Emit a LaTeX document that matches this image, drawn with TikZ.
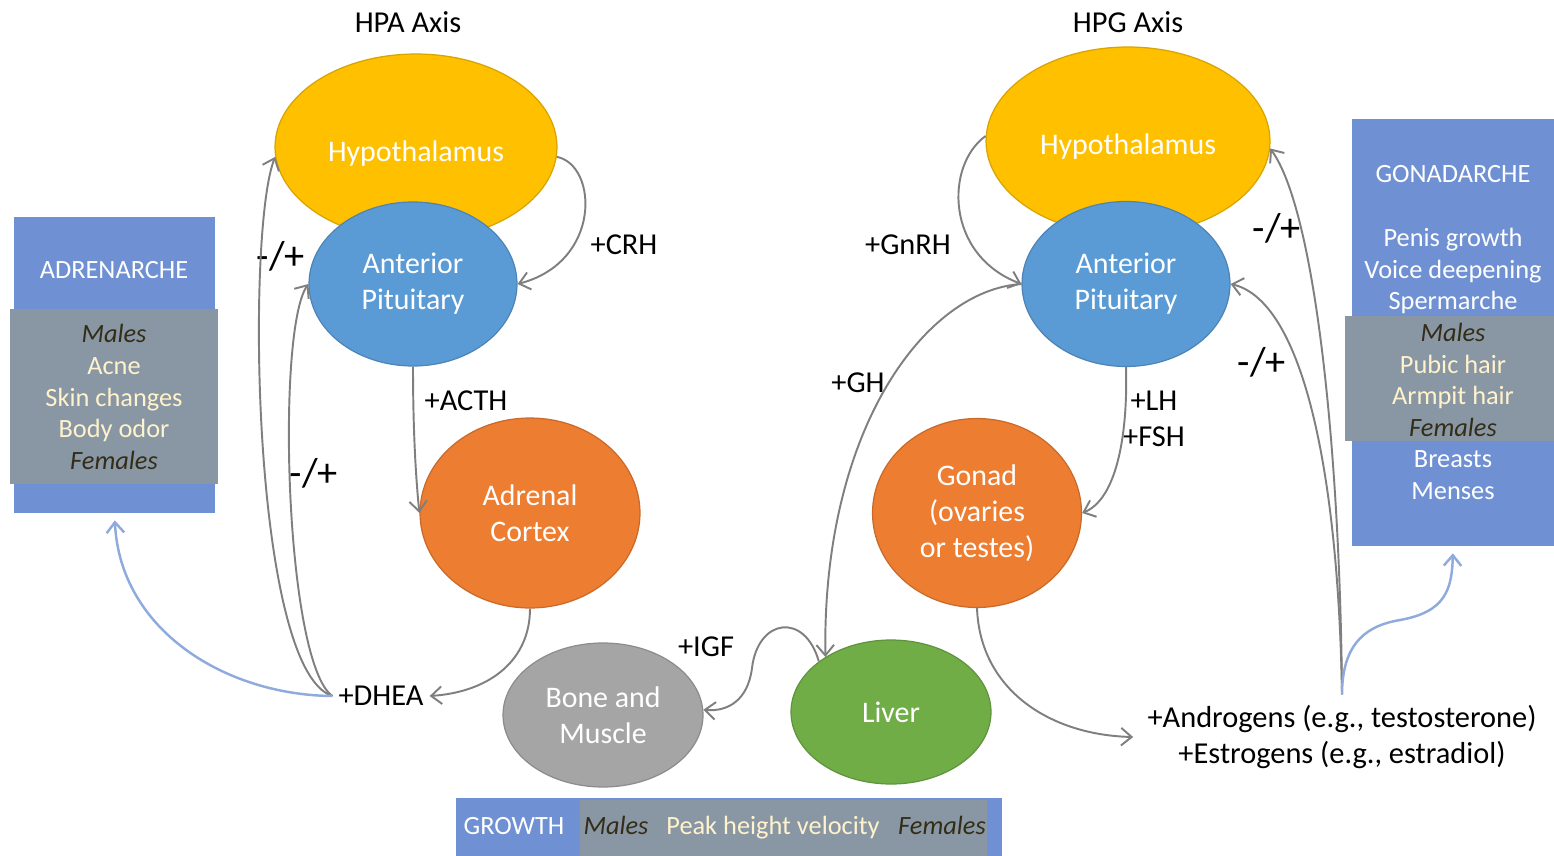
\documentclass[tikz,border=0pt]{standalone}
\usepackage{fontspec}
\setmainfont{Carlito}
\usetikzlibrary{shapes.geometric,arrows.meta}

\definecolor{hypyellow}{HTML}{FFC000}
\definecolor{pitblue}{HTML}{5B9BD5}
\definecolor{glandorange}{HTML}{ED7D31}
\definecolor{tissuegray}{HTML}{A5A5A5}
\definecolor{livergreen}{HTML}{70AD47}
\definecolor{panelblue}{HTML}{6F91D3}
\definecolor{overgray}{HTML}{8897A3}
\definecolor{creamtext}{HTML}{FFF2CC}
\definecolor{darkital}{HTML}{332D18}
\definecolor{linkgray}{HTML}{7F7F7F}
\definecolor{lightlink}{HTML}{8FAADC}

\newcommand{\sexlabel}[1]{\textcolor{darkital}{\itshape #1}}

\begin{document}
\begin{tikzpicture}[x=0.02cm,y=-0.02cm,
  font=\fontsize{17.3}{20.4}\selectfont,
  >={Straight Barb[length=6pt,width=10pt]},
  gland/.style={ellipse,inner sep=0pt,text=white,align=center,
    line width=0.7pt,font=\fontsize{17}{20.4}\selectfont},
  link/.style={->,line width=1.1pt,draw=linkgray},
  pathway/.style={->,line width=1.4pt,draw=lightlink,shorten >=4pt},
  panel/.style={fill=panelblue,inner sep=0pt},
  paneltext/.style={align=center,font=\fontsize{15}{18}\selectfont},
  sign/.style={font=\fontsize{23}{24}\selectfont}]
  \useasboundingbox (0,0) rectangle (1554,855);

  % Side panels
  \node[panel,minimum width=4.02cm,minimum height=5.92cm] (adrenBox) at (114.5,365) {};
  \fill[overgray] (10,309) rectangle (218,484);
  \node[paneltext,text=white] (adrenTitle) at (114,270) {ADRENARCHE};
  \node[paneltext,text=creamtext] (adrenList) at (114,397)
    {\sexlabel{Males}\\Acne\\Skin changes\\Body odor\\\sexlabel{Females}};

  \node[panel,minimum width=4.04cm,minimum height=8.54cm] (gonadBox) at (1453,332.5) {};
  \fill[overgray] (1345,316) rectangle (1554,441);
  \node[paneltext,text=white] (gonadTitle) at (1453,174) {GONADARCHE};
  \node[paneltext,text=white] (gonadList) at (1453,364)
    {Penis growth\\Voice deepening\\Spermarche\\\sexlabel{Males}\\
     \textcolor{creamtext}{Pubic hair}\\\textcolor{creamtext}{Armpit hair}\\
     \sexlabel{Females}\\Breasts\\Menses};

  \node[panel,minimum width=10.92cm,minimum height=1.3cm] (growthBox) at (729,830) {};
  \fill[overgray] (580,800) rectangle (987,860);
  \node[paneltext,text=white,anchor=base] (growthTitle) at (514,834) {GROWTH};
  \node[paneltext,anchor=base] (growthMales) at (616,834) {\sexlabel{Males}};
  \node[paneltext,text=creamtext,anchor=base] (growthPeak) at (773,834) {Peak height velocity};
  \node[paneltext,anchor=base] (growthFemales) at (942,834) {\sexlabel{Females}};

  % Axis titles
  \node (hpaTitle) at (408,22) {HPA Axis};
  \node (hpgTitle) at (1128,22) {HPG Axis};

  % Glands
  \node[gland,fill=hypyellow,draw=hypyellow!85!black,minimum width=5.64cm,minimum height=3.72cm]
    (hpaHyp) at (416,147) {};
  \node (hpaHypText) at (416,154) [text=white,font=\fontsize{17}{20.4}\selectfont] {Hypothalamus};
  \node[gland,fill=pitblue,draw=pitblue!85!black,minimum width=4.16cm,minimum height=3.28cm]
    (hpaPit) at (413,284) {Anterior\\Pituitary};
  \node[gland,fill=glandorange,draw=glandorange!85!black,minimum width=4.4cm,minimum height=3.8cm]
    (adrenal) at (530,513) {Adrenal\\Cortex};
  \node[gland,fill=tissuegray,draw=tissuegray!85!black,minimum width=4cm,minimum height=2.88cm]
    (bone) at (603,715) {Bone and\\Muscle};
  \node[gland,fill=livergreen,draw=livergreen!85!black,minimum width=4cm,minimum height=2.88cm]
    (liver) at (891,712) {Liver};
  \node[gland,fill=glandorange,draw=glandorange!85!black,minimum width=4.18cm,minimum height=3.78cm]
    (gonad) at (977,513) {Gonad\\(ovaries\\or testes)};
  \node[gland,fill=hypyellow,draw=hypyellow!85!black,minimum width=5.68cm,minimum height=3.76cm]
    (hpgHyp) at (1128,141) {};
  \node (hpgHypText) at (1128,147) [text=white,font=\fontsize{17}{20.4}\selectfont] {Hypothalamus};
  \node[gland,fill=pitblue,draw=pitblue!85!black,minimum width=4.16cm,minimum height=3.3cm]
    (hpgPit) at (1126,284) {Anterior\\Pituitary};

  % Hormones
  \node (dhea) at (381,696) {+DHEA};
  \node[align=center,inner ysep=6pt,inner xsep=8pt] (sex) at (1342,737)
    {+Androgens (e.g., testosterone)\\+Estrogens (e.g., estradiol)};

  % Labels
  \node (crhLbl) at (624,245) {+CRH};
  \node (acthLbl) at (466,401) {+ACTH};
  \node (igfLbl) at (706,647) {+IGF};
  \node (ghLbl) at (858,383) {+GH};
  \node (gnrhLbl) at (908,245) {+GnRH};
  \node[align=center] (lhLbl) at (1154,419) {+LH\\+FSH};
  \node[sign] (hpaSignA) at (281,256) {-/+};
  \node[sign] (hpaSignB) at (314,473) {-/+};
  \node[sign] (hpgSignA) at (1277,228) {-/+};
  \node[sign] (hpgSignB) at (1262,362) {-/+};

  % HPA arrows
  \draw[link] (hpaHyp.-4) .. controls (598,165) and (602,262) .. (hpaPit.east);
  \draw[link] (hpaPit.south) .. controls (413,420) and (415,470) .. (adrenal.west);
  \draw[link] (adrenal.south) .. controls (530,660) and (490,692) .. (dhea.east);
  \draw[link] (dhea.west) .. controls (252,670) and (246,230) .. (hpaHyp.184);
  \draw[link] (dhea.west) .. controls (285,662) and (276,330) .. (hpaPit.west);
  \draw[pathway] (dhea.west) .. controls (225,695) and (120,630) .. (adrenBox.south);

  % HPG arrows
  \draw[link] (hpgHyp.178) .. controls (945,165) and (945,255) .. (hpgPit.west);
  \draw[link] (hpgPit.west) .. controls (925,290) and (822,430) .. (liver.140);
  \draw[link] (liver.145) .. controls (805,612) and (758,618) .. (752,668)
    .. controls (748,700) and (728,712) .. (bone.3);
  \draw[link] (hpgPit.south) .. controls (1128,440) and (1115,500) .. (gonad.east);
  \draw[link] (gonad.south) .. controls (980,690) and (1050,735) .. (sex.west);
  \draw[link] (sex.north) .. controls (1340,450) and (1315,210) .. (hpgHyp.-3);
  \draw[link] (sex.north) .. controls (1338,460) and (1300,300) .. (hpgPit.east);
  \draw[pathway] (sex.north) .. controls (1342,640) and (1370,625) .. (1400,620)
    .. controls (1445,612) and (1452,590) .. (gonadBox.south);
\end{tikzpicture}
\end{document}
